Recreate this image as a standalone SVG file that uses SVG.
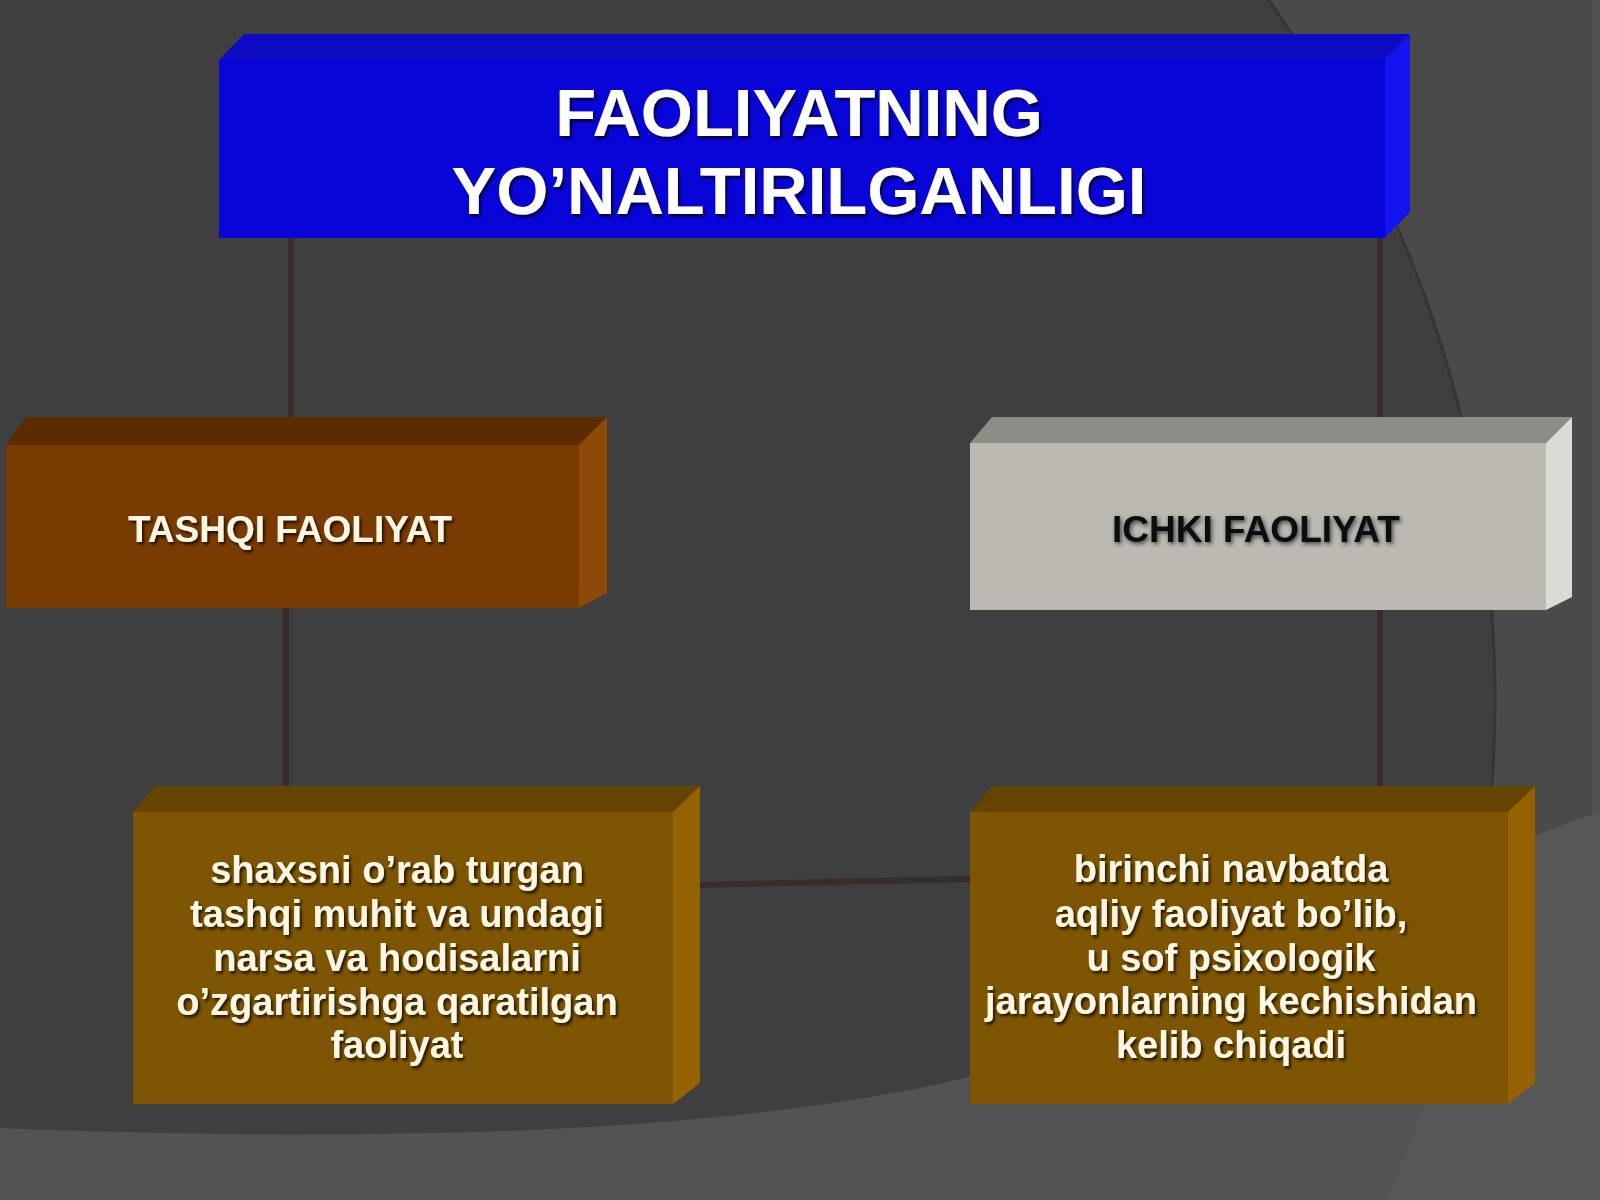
<svg xmlns="http://www.w3.org/2000/svg" width="1600" height="1200" viewBox="0 0 1600 1200">
<defs>
<filter id="sh" x="-10%" y="-30%" width="120%" height="160%">
<feDropShadow dx="2" dy="2.5" stdDeviation="1.5" flood-color="#000" flood-opacity="0.75"/>
</filter>
<filter id="shd" x="-10%" y="-30%" width="120%" height="160%">
<feDropShadow dx="1.5" dy="2" stdDeviation="2" flood-color="#222" flood-opacity="0.8"/>
</filter>
<clipPath id="bottomClip"><path d="M0,1128 C300,1140 700,1142 969,1077 C1200,1000 1450,860 1600,812 L1600,1200 L0,1200 Z"/></clipPath>
</defs>
<style>
.title{font-family:"Liberation Sans",Arial,sans-serif;font-weight:bold;font-size:67px;fill:#ffffff;text-anchor:middle}
.lbl{font-family:"Liberation Sans",Arial,sans-serif;font-weight:bold;font-size:37px;text-anchor:middle}
.body{font-family:"Liberation Sans",Arial,sans-serif;font-weight:bold;font-size:38px;fill:#fff6e4;text-anchor:middle}
.conn{stroke:#3a2b2d;stroke-width:6;fill:none}
</style>

<!-- background -->
<rect x="0" y="0" width="1600" height="1200" fill="#4a4a4a"/>
<circle cx="300" cy="700" r="1195" fill="#3f3f3f" stroke="#363636" stroke-width="3"/>
<rect x="1592" y="0" width="8" height="1200" fill="#505050"/>
<path d="M0,1128 C300,1140 700,1142 969,1077 C1200,1000 1450,860 1600,812 L1600,1200 L0,1200 Z" fill="#575757"/>
<circle cx="300" cy="700" r="1195" fill="#000" fill-opacity="0.04" clip-path="url(#bottomClip)"/>

<!-- connectors -->
<g id="connectors">
<line class="conn" x1="291" y1="238" x2="291" y2="419"/>
<line class="conn" x1="1380" y1="232" x2="1380" y2="419"/>
<line class="conn" x1="286" y1="606" x2="286" y2="788"/>
<line class="conn" x1="1380" y1="606" x2="1380" y2="788"/>
<line class="conn" x1="700" y1="885" x2="970" y2="879"/>
</g>

<!-- title -->
<g id="title">
<polygon points="219,60 244,34 1410,34 1385,60" fill="#0e0bc4"/>
<polygon points="1385,60 1410,34 1410,212 1385,238" fill="#1414f2"/>
<rect x="219" y="60" width="1166" height="178" fill="#0905d8"/>
<text class="title" x="799" y="136" filter="url(#sh)">FAOLIYATNING</text>
<text class="title" x="799" y="214" filter="url(#sh)">YO’NALTIRILGANLIGI</text>
</g>

<!-- TASHQI -->
<g id="tashqi">
<polygon points="6,445 26,417 607,417 579,445" fill="#5c2c00"/>
<polygon points="579,445 607,417 607,593 579,608" fill="#8c4a06"/>
<rect x="6" y="445" width="573" height="163" fill="#7a3b02"/>
<text class="lbl" x="290" y="542" fill="#fff6e4" filter="url(#sh)">TASHQI FAOLIYAT</text>
</g>

<!-- ICHKI -->
<g id="ichki">
<polygon points="970,443 992,417 1572,417 1546,443" fill="#8e8c86"/>
<polygon points="1546,443 1572,417 1572,597 1546,610" fill="#dcdad4"/>
<rect x="970" y="443" width="576" height="167" fill="#bcb9b3"/>
<text class="lbl" x="1256" y="542" fill="#111111" filter="url(#shd)">ICHKI FAOLIYAT</text>
</g>

<!-- bottom left -->
<g id="tashqi-desc">
<polygon points="133,812 155,786 700,786 673,812" fill="#654400"/>
<polygon points="673,812 700,786 700,1083 673,1104" fill="#946300"/>
<rect x="133" y="812" width="540" height="292" fill="#7e5502"/>
<text class="body" x="397" y="883" filter="url(#sh)">shaxsni o’rab turgan</text>
<text class="body" x="397" y="927" filter="url(#sh)">tashqi muhit va undagi</text>
<text class="body" x="397" y="971" filter="url(#sh)">narsa va hodisalarni</text>
<text class="body" x="397" y="1015" filter="url(#sh)">o’zgartirishga qaratilgan</text>
<text class="body" x="397" y="1058" filter="url(#sh)">faoliyat</text>
</g>

<!-- bottom right -->
<g id="ichki-desc">
<polygon points="970,812 992,786 1535,786 1508,812" fill="#654400"/>
<polygon points="1508,812 1535,786 1535,1083 1508,1104" fill="#946300"/>
<rect x="970" y="812" width="538" height="292" fill="#7e5502"/>
<text class="body" x="1231" y="882" filter="url(#sh)">birinchi navbatda</text>
<text class="body" x="1231" y="927" filter="url(#sh)">aqliy faoliyat bo’lib,</text>
<text class="body" x="1231" y="971" filter="url(#sh)">u sof psixologik</text>
<text class="body" x="1231" y="1014" filter="url(#sh)">jarayonlarning kechishidan</text>
<text class="body" x="1231" y="1058" filter="url(#sh)">kelib chiqadi</text>
</g>
</svg>
